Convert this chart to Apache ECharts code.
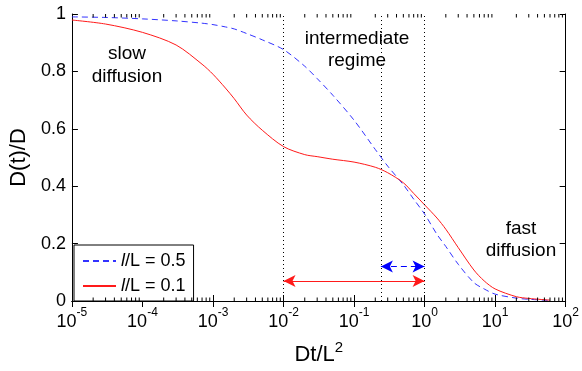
<!DOCTYPE html>
<html>
<head>
<meta charset="utf-8">
<script src="https://cdn.jsdelivr.net/npm/echarts@6/dist/echarts.min.js"></script>
<style>
  html, body { margin: 0; padding: 0; background: #fff; }
  #chart { width: 582px; height: 371px; }
</style>
</head>
<body>
<div id="chart"></div>
<script>
// Dt/L^2 sample points
const xVals = [1e-5, 3e-5, 1e-4, 3e-4, 7e-4, 1e-3, 1.5e-3, 2e-3, 3e-3, 5e-3, 0.01, 0.02, 0.03, 0.05,
  0.1, 0.2, 0.3, 0.5, 0.7, 1, 1.5, 2, 3, 5, 7, 10, 20, 30, 60];
// D(t)/D for l/L = 0.5 (blue dashed)
const dHalf = [0.99, 0.988, 0.983, 0.976, 0.968, 0.963, 0.955, 0.948, 0.932, 0.91, 0.876, 0.818, 0.775, 0.717,
  0.63, 0.528, 0.47, 0.405, 0.355, 0.303, 0.232, 0.19, 0.128, 0.064, 0.042, 0.024, 0.01, 0.006, 0.002];
// D(t)/D for l/L = 0.1 (red)
const dTenth = [0.979, 0.965, 0.936, 0.892, 0.825, 0.79, 0.742, 0.705, 0.648, 0.595, 0.538, 0.51, 0.503, 0.494,
  0.484, 0.466, 0.447, 0.412, 0.375, 0.335, 0.289, 0.25, 0.186, 0.108, 0.07, 0.042, 0.015, 0.009, 0.003];
const seriesNames = ['l/L = 0.5', 'l/L = 0.1'];

// regime boundaries and arrows
const regimeLines = [0.01, 0.24, 1];
const redArrow = { from: 0.01, to: 1, y: 0.07 };
const blueArrow = { from: 0.24, to: 1, y: 0.12 };

// log axis
const xMin = 1e-5, xMax = 1e2;
const minorTicks = [];
for (let e = -5; e < 2; e++) {
  for (let m = 2; m <= 9; m++) minorTicks.push(m * Math.pow(10, e));
}

const FONT = '"Liberation Sans", Arial, sans-serif';
const chart = echarts.init(document.getElementById('chart'));

const zip = (xs, ys) => xs.map((x, i) => [x, ys[i]]);

const supLabel = (v) => {
  const e = Math.round(Math.log10(v));
  return '{b|10}{s|' + e + '}';
};

chart.setOption({
  animation: false,
  textStyle: { fontFamily: FONT },
  grid: { left: 69, right: 11, top: 14, bottom: 65 },
  legend: {
    left: 74, top: 245,
    orient: 'vertical',
    data: seriesNames,
    backgroundColor: '#fff',
    borderColor: '#000',
    borderWidth: 1,
    borderRadius: 0,
    padding: [7, 8, 6, 8],
    itemWidth: 33,
    itemHeight: 18,
    itemGap: 7,
    itemStyle: { opacity: 0 },
    formatter: (n) => '{i|l}{t|' + n.slice(1) + '}',
    textStyle: {
      color: '#000',
      rich: {
        i: { fontSize: 18, fontStyle: 'italic', fontFamily: FONT, color: '#000' },
        t: { fontSize: 18, fontFamily: FONT, color: '#000' }
      }
    }
  },
  xAxis: [
    {
      type: 'log', logBase: 10, min: xMin, max: xMax, interval: 1,
      name: '{a|Dt/L}{s|2}',
      nameLocation: 'middle', nameGap: 39,
      nameTextStyle: {
        rich: {
          a: { fontSize: 22, fontFamily: FONT, color: '#000', verticalAlign: 'bottom', lineHeight: 26 },
          s: { fontSize: 15, fontFamily: FONT, color: '#000', verticalAlign: 'top', lineHeight: 26 }
        }
      },
      axisLine: { lineStyle: { color: '#000', width: 1 } },
      axisTick: { inside: true, length: 6, lineStyle: { color: '#000' } },
      splitLine: { show: false },
      axisLabel: {
        margin: 6,
        formatter: supLabel,
        rich: {
          b: { fontSize: 18, fontFamily: FONT, color: '#000', verticalAlign: 'bottom', lineHeight: 24 },
          s: { fontSize: 12, fontFamily: FONT, color: '#000', verticalAlign: 'top', lineHeight: 24 }
        }
      }
    },
    {
      type: 'log', logBase: 10, min: xMin, max: xMax, interval: 1, position: 'top',
      axisLine: { lineStyle: { color: '#000', width: 1 } },
      axisTick: { inside: true, length: 6, lineStyle: { color: '#000' } },
      splitLine: { show: false },
      axisLabel: { show: false }
    }
  ],
  yAxis: [
    {
      type: 'value', min: 0, max: 1, interval: 0.2,
      name: 'D(t)/D', nameLocation: 'middle', nameGap: 41,
      nameTextStyle: { fontSize: 22, color: '#000', fontFamily: FONT },
      axisLine: { show: true, lineStyle: { color: '#000', width: 1 } },
      axisTick: { show: true, inside: true, length: 6, lineStyle: { color: '#000' } },
      splitLine: { show: false },
      axisLabel: { margin: 6, fontSize: 18, color: '#000', fontFamily: FONT }
    },
    {
      type: 'value', min: 0, max: 1, interval: 0.2, position: 'right',
      axisLine: { show: true, lineStyle: { color: '#000', width: 1 } },
      axisTick: { show: true, inside: true, length: 6, lineStyle: { color: '#000' } },
      splitLine: { show: false },
      axisLabel: { show: false }
    }
  ],
  graphic: [
    { type: 'text', x: 127, y: 65, style: { text: 'slow\ndiffusion', font: '19px ' + FONT, fill: '#000', align: 'center', verticalAlign: 'middle', lineHeight: 23 } },
    { type: 'text', x: 357, y: 50, style: { text: 'intermediate\nregime', font: '19px ' + FONT, fill: '#000', align: 'center', verticalAlign: 'middle', lineHeight: 22 } },
    { type: 'text', x: 521, y: 240, style: { text: 'fast\ndiffusion', font: '19px ' + FONT, fill: '#000', align: 'center', verticalAlign: 'middle', lineHeight: 22 } }
  ],
  series: [
    {
      name: seriesNames[0],
      type: 'line',
      data: zip(xVals, dHalf),
      smooth: 0.3,
      symbol: 'none',
      color: '#3333ff',
      lineStyle: { color: '#3333ff', width: 1, type: [6, 4] },
      z: 3
    },
    {
      name: seriesNames[1],
      type: 'line',
      data: zip(xVals, dTenth),
      smooth: 0.3,
      symbol: 'none',
      color: '#ff1a1a',
      lineStyle: { color: '#ff1a1a', width: 1 },
      z: 3,
      markLine: {
        silent: true,
        animation: false,
        label: { show: false },
        symbol: ['none', 'none'],
        lineStyle: { color: '#000', type: [1, 3], width: 1 },
        data: regimeLines.map((v) => ({ xAxis: v }))
      }
    },
    {
      name: 'arrows-red',
      type: 'line',
      data: [],
      markLine: {
        silent: true,
        animation: false,
        label: { show: false },
        symbol: ['arrow', 'arrow'],
        symbolSize: [9, 12],
        lineStyle: { color: '#ff1a1a', type: 'solid', width: 1 },
        itemStyle: { color: '#ff1a1a' },
        data: [[{ coord: [redArrow.from, redArrow.y] }, { coord: [redArrow.to, redArrow.y] }]]
      }
    },
    {
      name: 'arrows-blue',
      type: 'line',
      data: [],
      markLine: {
        silent: true,
        animation: false,
        label: { show: false },
        symbol: ['arrow', 'arrow'],
        symbolSize: [9, 12],
        lineStyle: { color: '#0000ff', type: [6, 4], width: 1 },
        itemStyle: { color: '#0000ff' },
        data: [[{ coord: [blueArrow.from, blueArrow.y] }, { coord: [blueArrow.to, blueArrow.y] }]]
      }
    },
    {
      name: 'minor-ticks',
      type: 'custom',
      silent: true,
      clip: false,
      z: 5,
      data: minorTicks.map((v) => [v, 0]),
      renderItem: (params, api) => {
        const v = api.value(0);
        const b = api.coord([v, 0]);
        const t = api.coord([v, 1]);
        return {
          type: 'group',
          children: [
            { type: 'line', shape: { x1: b[0], y1: b[1], x2: b[0], y2: b[1] - 3.5 }, style: { stroke: '#000', lineWidth: 1 } },
            { type: 'line', shape: { x1: t[0], y1: t[1], x2: t[0], y2: t[1] + 3.5 }, style: { stroke: '#000', lineWidth: 1 } }
          ]
        };
      }
    }
  ]
});
</script>
</body>
</html>
